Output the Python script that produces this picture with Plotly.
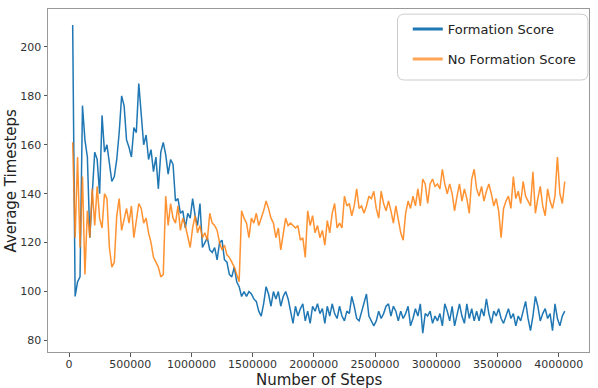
import plotly.graph_objects as go

steps = list(range(30000, 4050001, 20000))

formation_score = [
    209, 98, 104, 106, 176, 162, 155, 122, 140, 157,
    154, 140, 172, 157, 160, 153, 145, 147, 154, 165,
    180, 176, 162, 159, 155, 167, 165, 185, 173, 160,
    164, 154, 158, 149, 155, 142, 157, 161, 156, 148,
    154, 152, 137, 138, 132, 133, 126, 132, 130, 138,
    131, 127, 136, 118, 120, 122, 117, 116, 118, 113,
    120, 121, 113, 112, 107, 106, 110, 104, 102, 98,
    100, 98, 100, 99, 97, 96, 92, 90, 95, 102,
    99, 94, 100, 97, 100, 94, 98, 100, 97, 92,
    87, 94, 90, 93, 95, 88, 92, 87, 94, 92,
    95, 91, 93, 87, 94, 90, 95, 91, 89, 94,
    90, 88, 92, 91, 98, 94, 89, 88, 92, 96,
    99, 90, 88, 86, 88, 92, 89, 91, 94, 95,
    90, 94, 92, 88, 92, 89, 91, 94, 86, 89,
    93, 90, 95, 83, 91, 90, 92, 87, 90, 88,
    91, 86, 95, 92, 88, 94, 86, 91, 95, 90,
    87, 95, 89, 93, 88, 92, 88, 93, 90, 97,
    91, 87, 92, 90, 93, 89, 87, 90, 93, 89,
    91, 86, 90, 88, 92, 96, 89, 84, 90, 98,
    94, 88, 91, 93, 89, 91, 84, 95, 89, 86,
    90, 92,
]

no_formation_score = [
    161, 122, 155, 118, 147, 107, 133, 122, 142, 127,
    143, 130, 126, 140, 138, 118, 110, 112, 131, 138,
    125, 130, 134, 128, 135, 122, 130, 136, 134, 128,
    130, 124, 120, 114, 112, 110, 106, 107, 139, 127,
    136, 130, 128, 135, 125, 130, 127, 122, 118, 126,
    131, 124, 127, 122, 124, 121, 132, 128, 127, 125,
    120, 117, 119, 115, 114, 112, 110, 107, 104, 133,
    130, 128, 122, 130, 128, 132, 127, 130, 133, 137,
    134, 130, 128, 122, 126, 117, 123, 130, 127, 128,
    127, 126, 127, 121, 122, 114, 133, 127, 131, 124,
    127, 122, 125, 119, 129, 124, 132, 136, 126, 128,
    126, 139, 135, 136, 131, 135, 142, 134, 135, 132,
    135, 139, 138, 141, 134, 130, 141, 136, 133, 137,
    133, 128, 135, 130, 124, 121, 132, 137, 134, 139,
    135, 142, 135, 146, 144, 136, 144, 146, 143, 144,
    142, 150, 144, 140, 144, 140, 133, 139, 144, 137,
    142, 138, 132, 146, 150, 142, 139, 143, 137, 141,
    144, 140, 135, 138, 133, 122, 134, 137, 139, 134,
    147, 138, 141, 136, 145, 139, 137, 135, 149, 132,
    138, 143, 135, 131, 142, 137, 134, 139, 155, 140,
    136, 145,
]

series_names = ["Formation Score", "No Formation Score"]
x_ticks = [0, 500000, 1000000, 1500000, 2000000, 2500000, 3000000, 3500000, 4000000]
y_ticks = [80, 100, 120, 140, 160, 180, 200]

BLUE = "#1f77b4"
ORANGE = "#ff7f0e"
FONT = "DejaVu Sans"

fig = go.Figure()
fig.add_trace(go.Scatter(x=steps, y=formation_score, mode="lines",
                         line=dict(color=BLUE, width=1.5), showlegend=False))
fig.add_trace(go.Scatter(x=steps, y=no_formation_score, mode="lines",
                         line=dict(color=ORANGE, width=1.5), opacity=0.85,
                         showlegend=False))
# legend entries (thicker sample lines, as in the reference)
fig.add_trace(go.Scatter(x=[None], y=[None], mode="lines", name=series_names[0],
                         line=dict(color=BLUE, width=3), legendgroup="a"))
fig.add_trace(go.Scatter(x=[None], y=[None], mode="lines", name=series_names[1],
                         line=dict(color=ORANGE, width=3), opacity=0.7,
                         legendgroup="b"))

# rounded legend frame
x0, x1, y0, y1 = 0.646, 0.998, 0.793, 0.985
rx, ry = 0.013, 0.02
path = (f"M {x0+rx},{y1} L {x1-rx},{y1} Q {x1},{y1} {x1},{y1-ry} "
        f"L {x1},{y0+ry} Q {x1},{y0} {x1-rx},{y0} L {x0+rx},{y0} "
        f"Q {x0},{y0} {x0},{y0+ry} L {x0},{y1-ry} Q {x0},{y1} {x0+rx},{y1} Z")
fig.add_shape(type="path", path=path, xref="paper", yref="paper",
              line=dict(color="#cccccc", width=1), fillcolor="rgba(255,255,255,0.8)",
              layer="above")

axis_common = dict(showline=True, linecolor="#999999", linewidth=1, mirror=True,
                   ticks="outside", ticklen=3.5, tickcolor="#555555",
                   showgrid=False, zeroline=False, automargin=False,
                   tickfont=dict(family=FONT, size=11, color="#333333"))

fig.update_layout(
    width=598, height=388,
    margin=dict(l=48, r=9, t=9, b=36),
    paper_bgcolor="white", plot_bgcolor="white",
    font=dict(family=FONT, color="#222222"),
    xaxis=dict(range=[-171600, 4248000], tickvals=x_ticks,
               ticktext=[str(v) for v in x_ticks], ticklabelstandoff=-2,
               **axis_common),
    yaxis=dict(range=[75.3, 215.5], tickvals=y_ticks,
               ticktext=[str(v) for v in y_ticks], **axis_common),
    legend=dict(x=0.665, y=0.985, xanchor="left", yanchor="top",
                bgcolor="rgba(0,0,0,0)", borderwidth=0,
                font=dict(family=FONT, size=13, color="#222222"),
                tracegroupgap=10, traceorder="grouped"),
    annotations=[
        dict(text="Number of Steps", xref="paper", yref="paper", x=0.5, y=-0.083,
             xanchor="center", yanchor="middle", showarrow=False, borderpad=0,
             font=dict(family=FONT, size=15, color="#222222")),
        dict(text="Average Timesteps", xref="paper", yref="paper", x=-0.0684, y=0.5,
             xanchor="center", yanchor="middle", textangle=-90, showarrow=False,
             borderpad=0,
             font=dict(family=FONT, size=15, color="#222222")),
    ],
)

# remove the browser's default 8px page margin so the figure fills the window
fig.write_html("out.html", config={"displayModeBar": False},
               post_script="document.body.style.margin='0px';document.body.style.overflow='hidden';")
